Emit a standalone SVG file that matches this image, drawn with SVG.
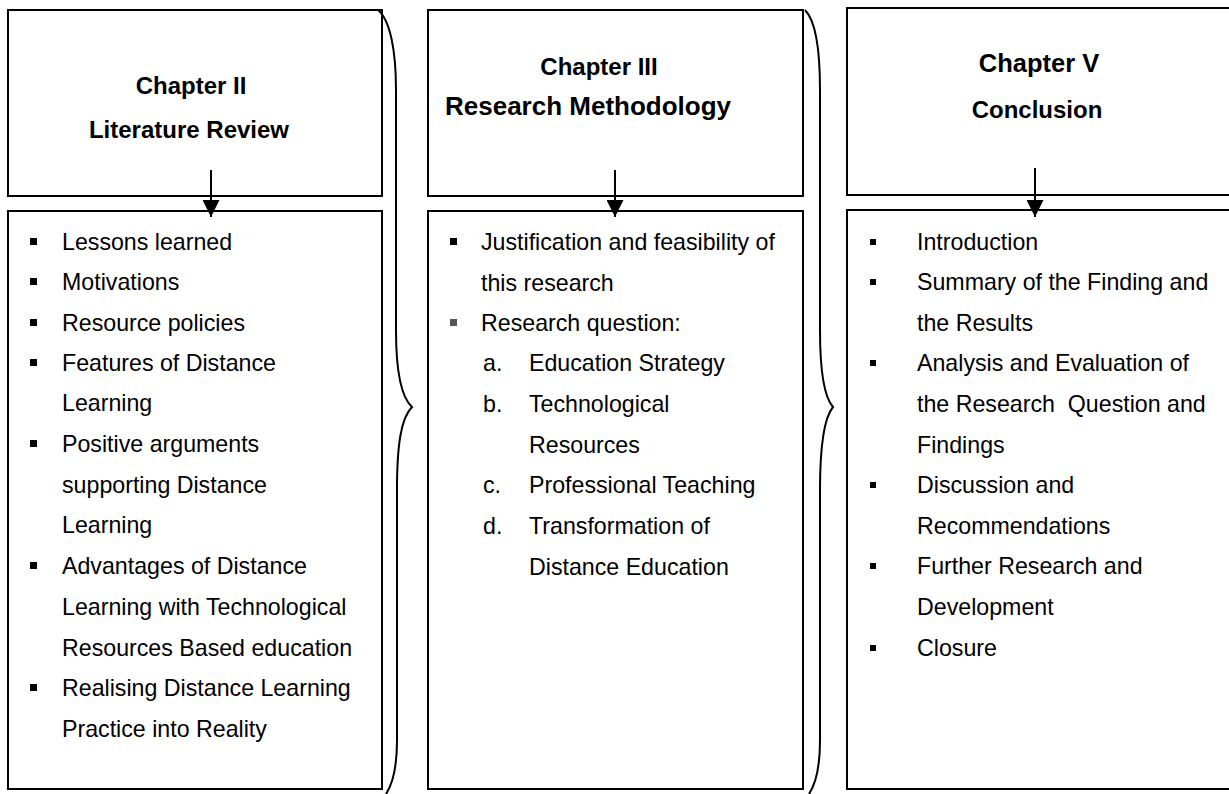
<svg xmlns="http://www.w3.org/2000/svg" width="1229" height="794" viewBox="0 0 1229 794">
<defs>
<style>
.box{fill:#fff;stroke:#000;stroke-width:2}
.title{font-family:"Liberation Sans",Arial,sans-serif;font-weight:bold;font-size:24px;fill:#000;text-anchor:middle}
.big{font-size:26px}
.item{font-family:"Liberation Sans",Arial,sans-serif;font-size:23.2px;fill:#000;white-space:pre}
.bul{fill:#000}
.brace{fill:none;stroke:#000;stroke-width:2}
.conn{stroke:#000;stroke-width:2;fill:none}
</style>
<marker id="ah2" viewBox="0 0 10 10" refX="10" refY="5" markerWidth="17" markerHeight="17" markerUnits="userSpaceOnUse" orient="auto">
<path d="M0,0 L10,5 L0,10 z" fill="#000"/>
</marker>
</defs>
<rect width="1229" height="794" fill="#fff"/>

<g id="ch2-head">
<rect class="box" x="8" y="10" width="374" height="186"/>
<text class="title" x="191" y="94">Chapter II</text>
<text class="title" x="189" y="138">Literature Review</text>
</g>
<g id="ch3-head">
<rect class="box" x="428" y="10" width="375" height="186"/>
<text class="title" x="599" y="75">Chapter III</text>
<text class="title big" x="588" y="115">Research Methodology</text>
</g>
<g id="ch5-head">
<rect class="box" x="847" y="8" width="390" height="187"/>
<text class="title" x="1039" y="72" style="font-size:25.5px">Chapter V</text>
<text class="title" x="1037" y="118">Conclusion</text>
</g>

<g id="ch2-list">
<rect class="box" x="8" y="211" width="374" height="578"/>
<g class="bul">
<rect x="30" y="238" width="7" height="7"/>
<rect x="30" y="278" width="7" height="7"/>
<rect x="30" y="319" width="7" height="7"/>
<rect x="30" y="359" width="7" height="7"/>
<rect x="30" y="440" width="7" height="7"/>
<rect x="30" y="562" width="7" height="7"/>
<rect x="30" y="684" width="7" height="7"/>
</g>
<text class="item" x="62" y="250">Lessons learned</text>
<text class="item" x="62" y="290">Motivations</text>
<text class="item" x="62" y="331">Resource policies</text>
<text class="item" x="62" y="371">Features of Distance</text>
<text class="item" x="62" y="411">Learning</text>
<text class="item" x="62" y="452">Positive arguments</text>
<text class="item" x="62" y="493">supporting Distance</text>
<text class="item" x="62" y="533">Learning</text>
<text class="item" x="62" y="574">Advantages of Distance</text>
<text class="item" x="62" y="615">Learning with Technological</text>
<text class="item" x="62" y="656">Resources Based education</text>
<text class="item" x="62" y="696">Realising Distance Learning</text>
<text class="item" x="62" y="737">Practice into Reality</text>
</g>

<g id="ch3-list">
<rect class="box" x="428" y="211" width="375" height="578"/>
<g class="bul">
<rect x="450" y="238" width="7" height="7"/>
<rect x="450" y="319" width="7" height="7" fill="#555"/>
</g>
<text class="item" x="481" y="250">Justification and feasibility of</text>
<text class="item" x="481" y="291">this research</text>
<text class="item" x="481" y="331">Research question:</text>
<text class="item" x="483" y="371">a.</text>
<text class="item" x="529" y="371">Education Strategy</text>
<text class="item" x="483" y="412">b.</text>
<text class="item" x="529" y="412">Technological</text>
<text class="item" x="529" y="453">Resources</text>
<text class="item" x="483" y="493">c.</text>
<text class="item" x="529" y="493">Professional Teaching</text>
<text class="item" x="483" y="534">d.</text>
<text class="item" x="529" y="534">Transformation of</text>
<text class="item" x="529" y="575">Distance Education</text>
</g>

<g id="ch5-list">
<rect class="box" x="847" y="210" width="390" height="579"/>
<g class="bul" fill="#333">
<rect x="870" y="239" width="6" height="6"/>
<rect x="870" y="279" width="6" height="6"/>
<rect x="870" y="360" width="6" height="6"/>
<rect x="870" y="482" width="6" height="6"/>
<rect x="870" y="563" width="6" height="6"/>
<rect x="870" y="645" width="6" height="6"/>
</g>
<text class="item" x="917" y="250">Introduction</text>
<text class="item" x="917" y="290">Summary of the Finding and</text>
<text class="item" x="917" y="331">the Results</text>
<text class="item" x="917" y="371">Analysis and Evaluation of</text>
<text class="item" x="917" y="412">the Research  Question and</text>
<text class="item" x="917" y="453">Findings</text>
<text class="item" x="917" y="493">Discussion and</text>
<text class="item" x="917" y="534">Recommendations</text>
<text class="item" x="917" y="574">Further Research and</text>
<text class="item" x="917" y="615">Development</text>
<text class="item" x="917" y="656">Closure</text>
</g>

<g id="connectors">
<line class="conn" x1="211" y1="170" x2="211" y2="217" marker-end="url(#ah2)"/>
<line class="conn" x1="615" y1="170" x2="615" y2="217" marker-end="url(#ah2)"/>
<line class="conn" x1="1035" y1="168" x2="1035" y2="217" marker-end="url(#ah2)"/>
<path class="brace" d="M378,10 C390,20 396,50 396,90 L396,330 C396,375 402,398 412,407 C401,418 397,445 397,490 L397,740 C397,770 392,785 386,794"/>
<path class="brace" d="M805,10 C815,20 820,50 820,90 L820,330 C820,375 825,398 833,407 C824,418 820,445 820,490 L820,740 C820,770 815,785 809,794"/>
</g>
</svg>
